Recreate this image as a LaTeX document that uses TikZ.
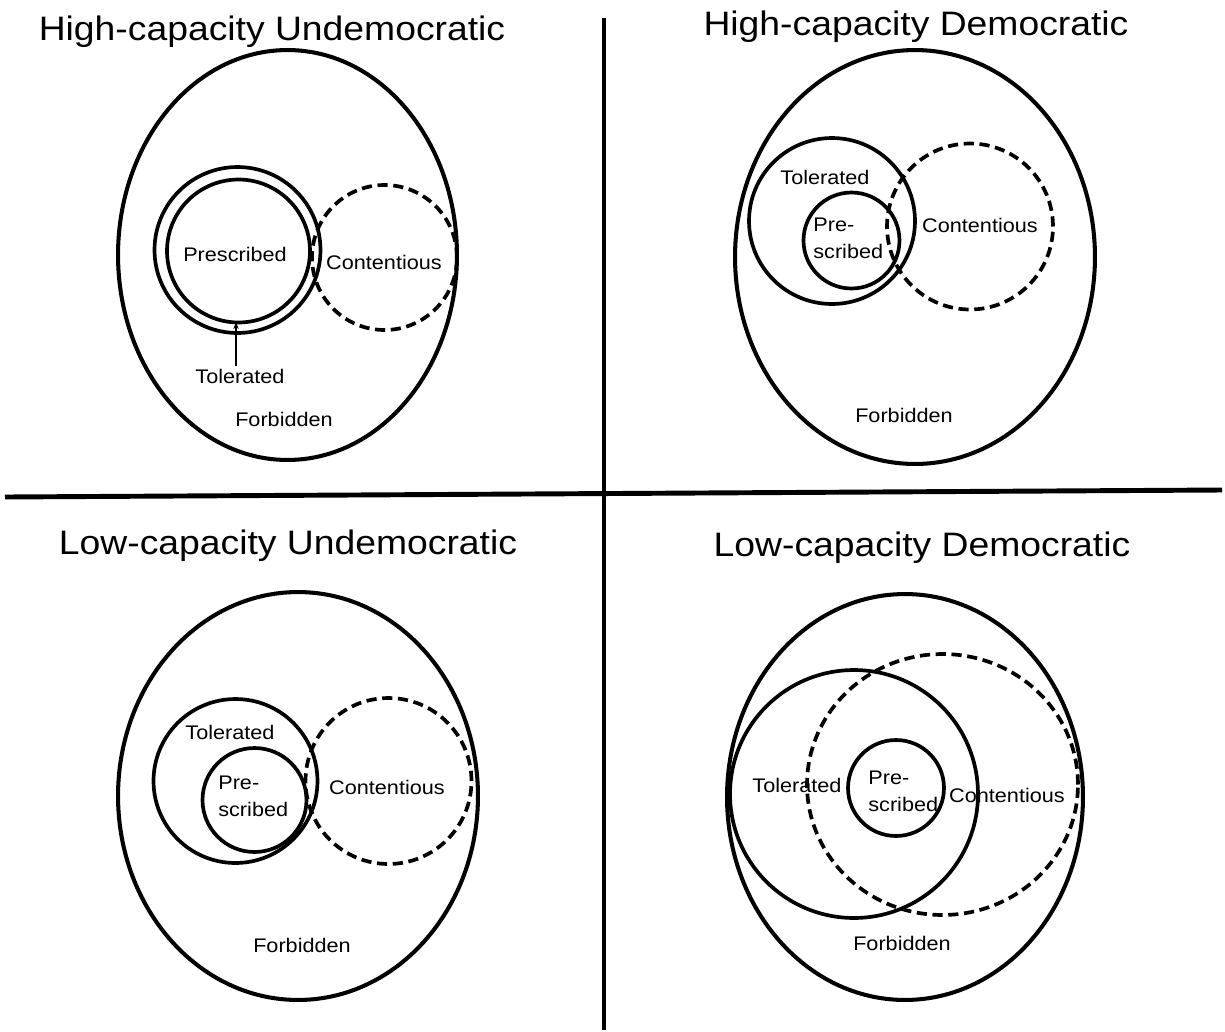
\documentclass[tikz,border=0pt]{standalone}
\usepackage{fontspec}
\setmainfont{Liberation Sans}[FakeStretch=1.1]
\usetikzlibrary{arrows.meta}
\begin{document}
\begin{tikzpicture}[x=0.02cm,y=-0.02cm,
  outerell/.style={line width=2.3pt},
  inner/.style={line width=2.1pt},
  contour/.style={line width=2.1pt,dash pattern=on 5.8pt off 3.2pt},
  divider/.style={line width=2.8pt},
  title/.style={font=\fontsize{19.3}{23}\selectfont},
  lbl/.style={font=\fontsize{11.2}{15.3}\selectfont, inner sep=0pt},
  twoline/.style={lbl, align=left, anchor=west}]
\useasboundingbox (0,0) rectangle (1225,1032);
% dividers
\coordinate (vtop) at (604,18);
\coordinate (vbot) at (604,1030);
\coordinate (hleft) at (5,497);
\coordinate (hright) at (1222,490);
\draw[divider] (vtop) -- (vbot);
\draw[divider] (hleft) -- (hright);

% ---------- Top-left
\node[title] (t1) at (272,32) {High-capacity Undemocratic};
\draw[outerell] (287.5,255) ellipse [x radius=3.39cm, y radius=4.1cm];
\draw[inner] (237.5,250) circle [radius=1.66cm];
\draw[inner] (238.5,251) circle [radius=1.43cm];
\draw[contour] (384.5,257.5) circle [radius=1.45cm];
\node[lbl] (p1) at (235,254) {Prescribed};
\node[lbl] (c1) at (384,262) {Contentious};
\node[lbl] (tol1) at (240,376) {Tolerated};
\coordinate (tip1) at (236,322);
\draw[line width=0.8pt,-{Stealth[length=4pt,width=3pt]}] (tol1.north -| tip1) ++(0,-2) -- (tip1);
\node[lbl] (f1) at (284,419) {Forbidden};

% ---------- Top-right
\node[title] (t2) at (916,27) {High-capacity Democratic};
\draw[outerell] (915,257) ellipse [x radius=3.6cm, y radius=4.14cm];
\draw[inner] (832,221) circle [radius=1.66cm];
\draw[inner] (851.5,240.5) circle [radius=0.96cm];
\draw[contour] (970,226.5) circle [radius=1.66cm];
\node[lbl] (tol2) at (825,177) {Tolerated};
\node[twoline] (p2) at (813,238.5) {Pre-\\scribed};
\node[lbl] (c2) at (980,225) {Contentious};
\node[lbl] (f2) at (904,415) {Forbidden};

% ---------- Bottom-left
\node[title] (t3) at (288,546) {Low-capacity Undemocratic};
\draw[outerell] (298,796) ellipse [x radius=3.6cm, y radius=4.08cm];
\draw[inner] (235.5,781) circle [radius=1.64cm];
\draw[inner] (254.5,800) circle [radius=1.04cm];
\draw[contour] (388.5,781) circle [radius=1.66cm];
\node[lbl] (tol3) at (230,732) {Tolerated};
\node[twoline] (p3) at (218,796) {Pre-\\scribed};
\node[lbl] (c3) at (387,787) {Contentious};
\node[lbl] (f3) at (302,945) {Forbidden};

% ---------- Bottom-right
\node[title] (t4) at (922,548) {Low-capacity Democratic};
\draw[outerell] (905,797) ellipse [x radius=3.56cm, y radius=4.06cm];
\draw[inner] (854,794) circle [radius=2.48cm];
\draw[contour] (942.5,784.5) ellipse [x radius=2.71cm, y radius=2.61cm];
\draw[inner] (896,788) circle [radius=0.96cm];
\node[lbl] (tol4) at (797,785) {Tolerated};
\node[twoline] (p4) at (868,791.5) {Pre-\\scribed};
\node[lbl] (c4) at (1007,795) {Contentious};
\node[lbl] (f4) at (902,943) {Forbidden};
\end{tikzpicture}
\end{document}
